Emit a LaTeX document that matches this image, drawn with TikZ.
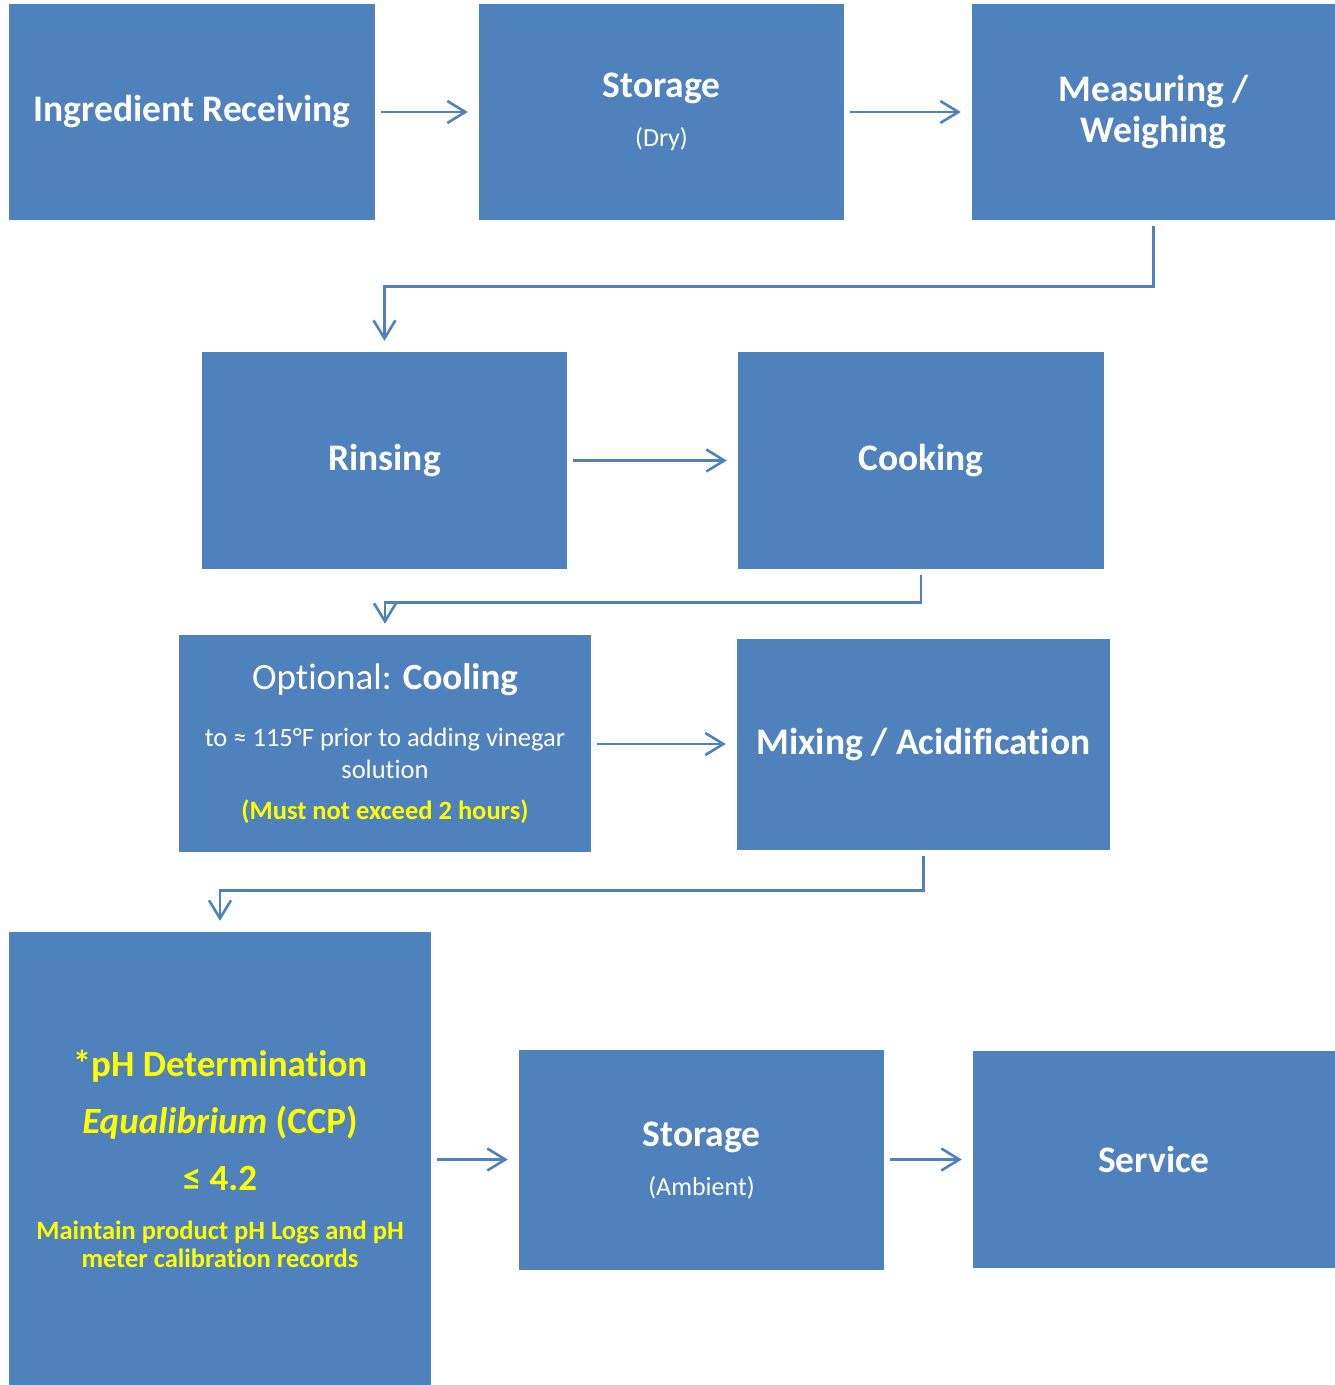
\documentclass[tikz,border=0pt]{standalone}
\usepackage{fontspec}
\setmainfont{Carlito}[Ligatures=CommonOff]
\usepackage{xcolor}
\usetikzlibrary{arrows.meta}
\definecolor{stepblue}{HTML}{4F81BD}
\definecolor{ccpyellow}{HTML}{FFFF00}

\begin{document}
\begin{tikzpicture}[x=1pt,y=-1pt,
	stepbox/.style={fill=stepblue,text=white,align=center,inner sep=0pt,font=\bfseries\fontsize{37.5}{41}\selectfont},
	flow/.style={draw=stepblue,line width=2.6pt,shorten <=6pt,shorten >=11pt,-{Straight Barb[length=18pt,width=22pt,line width=2.6pt]}}]
	\useasboundingbox (0,0) rectangle (1335,1385);
	% first row
	\node[stepbox,minimum width=366pt,minimum height=216pt] (receiving) at (192,112) {Ingredient Receiving};
	\node[stepbox,minimum width=365pt,minimum height=216pt] (drystore) at (661.5,112) {Storage\\[8pt]{\mdseries\fontsize{26}{26}\selectfont (Dry)}};
	\node[stepbox,minimum width=363pt,minimum height=216pt] (weighing) at (1153.5,112) {Measuring /\\Weighing};
	% second row
	\node[stepbox,minimum width=365pt,minimum height=217pt] (rinsing) at (384.5,460.5) {Rinsing};
	\node[stepbox,minimum width=366pt,minimum height=217pt] (cooking) at (921,460.5) {Cooking};
	% third row
	\node[stepbox,minimum width=412pt,minimum height=217pt,font=\fontsize{26.5}{32}\selectfont] (cooling) at (385,743.5) {{\fontsize{37}{40}\selectfont Optional: \textbf{Cooling}}\\[25pt]to ≈ 115°F prior to adding vinegar\\solution\\[9pt]\textcolor{ccpyellow}{\textbf{(Must not exceed 2 hours)}}};
	\node[stepbox,minimum width=373pt,minimum height=211pt] (mixing) at (923.5,744.5) {Mixing / Acidification};
	% last row
	\node[stepbox,minimum width=422pt,minimum height=453pt,text=ccpyellow,font=\bfseries\fontsize{37}{57}\selectfont] (phcheck) at (220,1158.5) {*pH Determination\\\textit{Equalibrium} (CCP)\\≤ 4.2\\[-8pt]{\fontsize{26.5}{28}\selectfont Maintain product pH Logs and pH}\\[-29pt]{\fontsize{26.5}{28}\selectfont meter calibration records}};
	\node[stepbox,minimum width=365pt,minimum height=220pt] (ambient) at (701.5,1160) {Storage\\[8pt]{\mdseries\fontsize{26}{26}\selectfont (Ambient)}};
	\node[stepbox,minimum width=362pt,minimum height=217pt] (service) at (1154,1159.5) {Service};
	% connectors
	\draw[flow] (receiving) -- (drystore);
	\draw[flow] (drystore) -- (weighing);
	\draw[flow] (weighing.south) -- ++(0,66) -| (rinsing.north);
	\draw[flow] (rinsing) -- (cooking);
	\draw[flow] (cooking.south) -- ++(0,33) -| (cooling.north);
	\draw[flow] (cooling.east |- 0,744) -- (mixing.west |- 0,744);
	\draw[flow] (mixing.south) -- ++(0,40) -| (phcheck.north);
	\draw[flow] (phcheck.east |- service) -- (ambient.west |- service);
	\draw[flow] (ambient.east |- service) -- (service);
\end{tikzpicture}
\end{document}
